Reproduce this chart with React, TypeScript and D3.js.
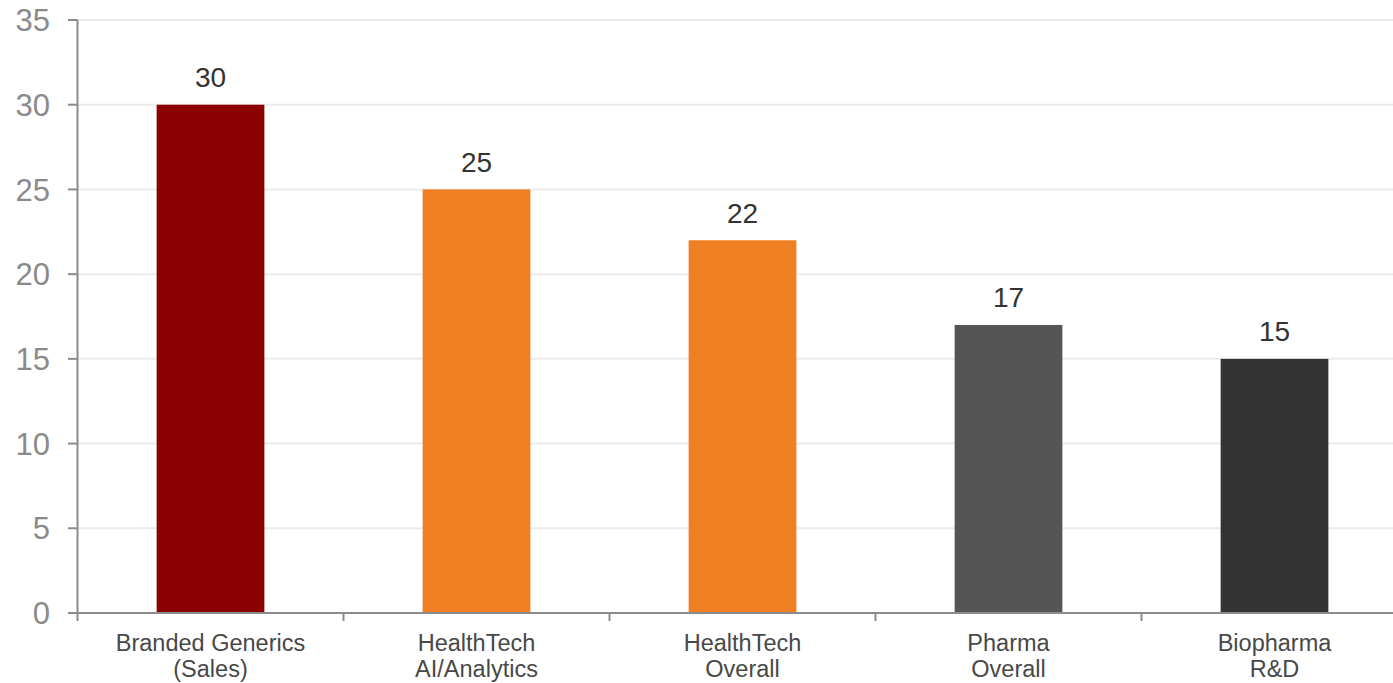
import React from "react";
import * as d3 from "d3";

const categories: string[][] = [
  ["Branded Generics", "(Sales)"],
  ["HealthTech", "AI/Analytics"],
  ["HealthTech", "Overall"],
  ["Pharma", "Overall"],
  ["Biopharma", "R&D"],
];
const values = [30, 25, 22, 17, 15];
const colors = ["#8B0000", "#F07F23", "#F07F23", "#555555", "#333333"];
const yTicks = [0, 5, 10, 15, 20, 25, 30, 35];

const W = 1393;
const H = 683;

export default function App() {
  const left = 77.5;
  const y = d3.scaleLinear().domain([0, 35]).range([613, 20]);
  const x = d3
    .scaleBand<number>()
    .domain(values.map((_, i) => i))
    .range([left, left + 266 * 5])
    .paddingInner(0.595)
    .paddingOuter(0.2975);
  const step = x.step();
  const font = "'Liberation Sans', Arial, sans-serif";
  return (
    <svg
      width={W}
      height={H}
      style={{ position: "absolute", left: 0, top: 0 }}
      fontFamily={font}
    >
      {yTicks.map((t) => (
        <g key={t}>
          {t > 0 && (
            <line x1={left} x2={W} y1={y(t)} y2={y(t)} stroke="#ebebeb" strokeWidth={2} />
          )}
          <line x1={68} x2={left} y1={y(t)} y2={y(t)} stroke="#8c8c8c" strokeWidth={2} />
          <text x={50} y={y(t)} dy="0.36em" textAnchor="end" fontSize={31} fill="#8a8a8a">
            {t}
          </text>
        </g>
      ))}
      {values.map((v, i) => (
        <g key={i}>
          <rect
            x={x(i)}
            y={y(v)}
            width={x.bandwidth()}
            height={y(0) - y(v)}
            fill={colors[i]}
          />
          <text
            x={(x(i) as number) + x.bandwidth() / 2}
            y={y(v) - 17.5}
            textAnchor="middle"
            fontSize={28}
            fill="#333"
          >
            {v}
          </text>
          {categories[i].map((line, j) => (
            <text
              key={j}
              x={(x(i) as number) + x.bandwidth() / 2}
              y={651 + j * 26}
              textAnchor="middle"
              fontSize={23.5}
              fill="#484848"
            >
              {line}
            </text>
          ))}
        </g>
      ))}
      <line x1={left} x2={left} y1={y(35)} y2={y(0)} stroke="#8c8c8c" strokeWidth={2} />
      <line x1={left} x2={W} y1={y(0)} y2={y(0)} stroke="#8c8c8c" strokeWidth={2} />
      {d3.range(0, 6).map((k) => (
        <line
          key={k}
          x1={left + k * step}
          x2={left + k * step}
          y1={y(0)}
          y2={y(0) + 8}
          stroke="#8c8c8c"
          strokeWidth={2}
        />
      ))}
    </svg>
  );
}
